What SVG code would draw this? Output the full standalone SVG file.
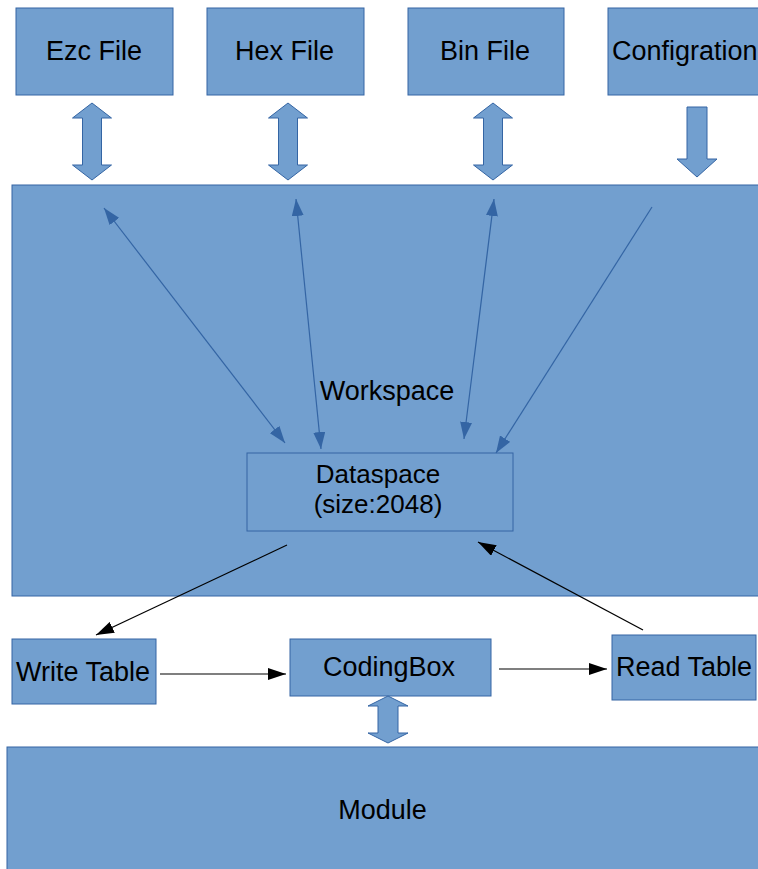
<svg xmlns="http://www.w3.org/2000/svg" width="758" height="869" viewBox="0 0 758 869">
<defs>
<style>
.box{fill:#729fcf;stroke:#3465a4;stroke-width:1}
.blk{fill:#729fcf;stroke:#3465a4;stroke-width:1}
.t{font-family:"Liberation Sans",Arial,sans-serif;font-size:27px;fill:#000;text-anchor:middle}
.bl{stroke:#3465a4;stroke-width:1.2;fill:none}
.k{stroke:#000;stroke-width:1.2;fill:none}
</style>
<marker id="ab" viewBox="0 0 10 10" refX="10" refY="5" markerWidth="17" markerHeight="12" markerUnits="userSpaceOnUse" orient="auto-start-reverse" preserveAspectRatio="none">
<path d="M0,0 L10,5 L0,10 Z" fill="#3465a4"/>
</marker>
<marker id="ak" viewBox="0 0 10 10" refX="10" refY="5" markerWidth="18" markerHeight="12" markerUnits="userSpaceOnUse" orient="auto" preserveAspectRatio="none">
<path d="M0,0 L10,5 L0,10 Z" fill="#000"/>
</marker>
</defs>
<rect width="758" height="869" fill="#fff"/>

<g id="workspace">
<rect class="box" x="12" y="185" width="750" height="411"/>
<text class="t" x="387" y="400">Workspace</text>
</g>
<g id="module">
<rect class="box" x="7" y="747" width="755" height="126"/>
<text class="t" x="382.5" y="819">Module</text>
</g>

<g id="ezc">
<rect class="box" x="16" y="8" width="157" height="87"/>
<text class="t" x="94" y="60">Ezc File</text>
</g>
<g id="hex">
<rect class="box" x="207" y="8" width="157" height="87"/>
<text class="t" x="284.5" y="60">Hex File</text>
</g>
<g id="bin">
<rect class="box" x="408" y="8" width="156" height="87"/>
<text class="t" x="485" y="60">Bin File</text>
</g>
<g id="config">
<rect class="box" x="608" y="8" width="160" height="87"/>
<text class="t" x="612" y="60" style="text-anchor:start">Configration</text>
</g>

<g id="dataspace">
<rect class="box" x="247" y="453" width="266" height="78"/>
<text class="t" x="378" y="483" style="font-size:26px">Dataspace</text>
<text class="t" x="378" y="513" style="font-size:26px">(size:2048)</text>
</g>
<g id="writetable">
<rect class="box" x="12" y="639" width="144" height="65"/>
<text class="t" x="83" y="681">Write Table</text>
</g>
<g id="codingbox">
<rect class="box" x="290" y="639" width="201" height="57"/>
<text class="t" x="389" y="676">CodingBox</text>
</g>
<g id="readtable">
<rect class="box" x="612" y="635" width="144" height="65"/>
<text class="t" x="684" y="676">Read Table</text>
</g>

<g id="connectors">
<path class="blk" d="M92,103 L111.5,118 L101.5,118 L101.5,165 L111.5,165 L92,180 L72.5,165 L82.5,165 L82.5,118 L72.5,118 Z"/>
<path class="blk" d="M288,103 L307.5,118 L297.5,118 L297.5,165 L307.5,165 L288,180 L268.5,165 L278.5,165 L278.5,118 L268.5,118 Z"/>
<path class="blk" d="M493,103 L512.5,118 L502.5,118 L502.5,165 L512.5,165 L493,180 L473.5,165 L483.5,165 L483.5,118 L473.5,118 Z"/>
<path class="blk" d="M687,107 L707,107 L707,159 L717,159 L697,177 L677,159 L687,159 Z"/>
<path class="blk" d="M388,696 L408,706 L398,706 L398,733 L408,733 L388,743 L368,733 L378,733 L378,706 L368,706 Z"/>

<line class="bl" x1="104" y1="208" x2="285" y2="443" marker-start="url(#ab)" marker-end="url(#ab)"/>
<line class="bl" x1="296" y1="199" x2="321" y2="449" marker-start="url(#ab)" marker-end="url(#ab)"/>
<line class="bl" x1="494" y1="199" x2="464" y2="439" marker-start="url(#ab)" marker-end="url(#ab)"/>
<line class="bl" x1="652" y1="207" x2="496" y2="453" marker-end="url(#ab)"/>

<line class="k" x1="287" y1="545" x2="96" y2="635" marker-end="url(#ak)"/>
<line class="k" x1="643" y1="630" x2="478" y2="542" marker-end="url(#ak)"/>
<line class="k" x1="160" y1="674" x2="286" y2="674" marker-end="url(#ak)"/>
<line class="k" x1="499" y1="669" x2="607" y2="669" marker-end="url(#ak)"/>
</g>
</svg>
